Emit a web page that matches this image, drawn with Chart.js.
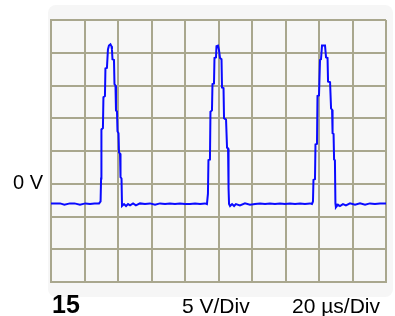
<!DOCTYPE html>
<html>
<head>
<meta charset="utf-8">
<script src="https://cdn.jsdelivr.net/npm/chart.js@4.4.1/dist/chart.umd.min.js"></script>
<style>
  html, body { margin: 0; padding: 0; background: #fff; }
  #wrap { position: relative; width: 395px; height: 316px; }
</style>
</head>
<body>
<div id="wrap"><canvas id="scope" width="395" height="316"></canvas></div>
<script>
// trace: time in us, level in volts
var traceTime = [
  0, 5.4, 8.0, 11.3, 14.0, 17.3, 20.5, 23.3, 26.0, 28.7,
  29.6, 29.9, 30.1, 31.0, 31.3, 32.2, 32.5, 33.4, 34.0, 34.6, 35.5, 36.1, 36.4, 36.7,
  37.6, 37.9, 38.5, 38.8, 39.4, 39.7, 40.3, 40.6, 41.2, 41.5, 42.1, 42.4,
  43.6, 44.8, 46.0, 47.2, 49.0, 50.7, 53.1, 56.1, 59.1, 62.1, 65.1, 68.1, 71.0,
  74.0, 77.0, 80.0, 83.0, 86.0, 89.0, 91.9, 93.1,
  93.7, 94.0, 94.9, 95.2, 96.1, 96.4, 97.3, 97.6, 98.5, 98.8, 99.7, 100.3, 100.9,
  101.8, 102.1, 103.0, 103.3, 104.5, 105.1, 105.7, 106.0, 106.3,
  106.9, 108.1, 109.3, 110.4, 112.8, 115.8, 118.8, 121.8, 124.8, 127.8, 130.7,
  133.7, 136.7, 139.7, 142.7, 145.7, 148.7, 151.6, 154.6, 155.8,
  156.4, 156.7, 157.6, 157.9, 158.8, 159.1, 160.0, 160.6, 161.2, 161.8, 163.6,
  164.2, 165.1, 165.4, 166.6, 167.2, 167.8, 168.1, 168.7, 169.0, 169.5, 169.8,
  170.1, 171.3, 172.5, 174.3, 176.1, 178.5, 181.5, 184.5, 187.5, 190.4, 193.4, 196.4, 200
]
var traceVolts = [
  -3.0, -3.0, -3.2, -3.0, -3.0, -3.2, -3.0, -3.1, -3.0, -3.0,
  -2.7, 0.8, 8.3, 8.5, 13.2, 13.4, 17.6, 17.7, 20.5, 21.1, 21.3, 21.0, 20.5, 19.0,
  18.9, 15.2, 15.0, 11.2, 11.0, 8.0, 7.7, 4.8, 4.6, 1.0, 0.8, -3.4,
  -3.1, -3.4, -3.1, -3.3, -3.0, -3.3, -3.0, -3.1, -3.0, -3.2, -3.0, -3.1, -3.0,
  -3.1, -3.0, -3.1, -3.1, -3.0, -3.1, -3.0, -3.1,
  -1.5, 3.6, 3.7, 11.0, 11.2, 15.2, 15.3, 19.2, 19.3, 21.0, 21.1, 20.4, 19.2,
  19.0, 14.7, 14.6, 10.0, 9.8, 5.5, 5.4, -0.7, -3.1,
  -3.4, -3.1, -3.4, -3.1, -3.3, -3.0, -3.2, -3.1, -3.0, -3.1, -3.0,
  -3.1, -3.0, -3.1, -3.0, -3.1, -3.0, -3.1, -3.0, -3.1,
  -2.7, 0.6, 0.7, 6.0, 6.1, 13.4, 13.5, 18.9, 19.0, 21.1, 21.1,
  19.3, 19.2, 15.6, 15.5, 11.5, 11.3, 7.7, 7.6, 3.7, 3.6, -3.0,
  -3.6, -3.2, -3.4, -3.1, -3.3, -3.0, -3.2, -3.0, -3.2, -3.0, -3.1, -3.0, -3.0
]

// screen: 10 x 8 divisions
var timeTicks = [0, 200, 20]     // min, max, step (us)
var voltTicks = [-15, 25, 5]     // min, max, step (V)
var zeroLabel = "0 V"
var captions = ["15", "5 V/Div", "20 \u00b5s/Div"]

var gridColor = "#a9a78e"

var points = []
for (var i = 0; i < traceTime.length; i++) {
  points.push({ x: traceTime[i], y: traceVolts[i] })
}

var panel = {
  id: "panel",
  beforeDraw: function(chart) {
    var ctx = chart.ctx
    ctx.save()
    ctx.fillStyle = "#f6f6f6"
    ctx.beginPath()
    ctx.roundRect(48, 5, 345, 292, 8)
    ctx.fill()
    var a = chart.chartArea
    ctx.fillStyle = "#f7f7f7"
    ctx.fillRect(a.left, a.top, a.right - a.left, a.bottom - a.top)
    ctx.restore()
  },
  afterDraw: function(chart) {
    var ctx = chart.ctx
    ctx.save()
    ctx.fillStyle = "#000"
    ctx.textBaseline = "alphabetic"
    ctx.font = "bold 25px 'Liberation Sans', Arial, sans-serif"
    ctx.fillText(captions[0], 52, 313)
    ctx.font = "21px 'Liberation Sans', Arial, sans-serif"
    ctx.fillText(captions[1], 182, 313)
    ctx.fillText(captions[2], 292, 313)
    ctx.restore()
  }
}

new Chart("scope", {
  type: "line",
  data: {
    datasets: [{
      data: points,
      borderColor: "#0a0aff",
      borderWidth: 2,
      pointRadius: 0,
      tension: 0,
      fill: false
    }]
  },
  options: {
    responsive: false,
    animation: false,
    events: [],
    layout: { padding: { top: 13, right: 9, left: 0, bottom: 0 } },
    plugins: { legend: { display: false }, tooltip: { enabled: false } },
    scales: {
      x: {
        type: "linear",
        min: timeTicks[0], max: timeTicks[1],
        ticks: { display: false, stepSize: timeTicks[2] },
        grid: { color: gridColor, lineWidth: 2, drawTicks: false },
        border: { color: gridColor, width: 2 },
        afterFit: function(s) { s.height = 34 }
      },
      y: {
        min: voltTicks[0], max: voltTicks[1],
        ticks: {
          stepSize: voltTicks[2],
          padding: 8,
          color: "#000",
          font: { family: "'Liberation Sans', Arial, sans-serif", size: 20 },
          callback: function(v) { return v === 0 ? zeroLabel : "" }
        },
        grid: { color: gridColor, lineWidth: 2, drawTicks: false },
        border: { color: gridColor, width: 2 },
        afterFit: function(s) { s.width = 51 }
      }
    }
  },
  plugins: [panel]
})
</script>
</body>
</html>
